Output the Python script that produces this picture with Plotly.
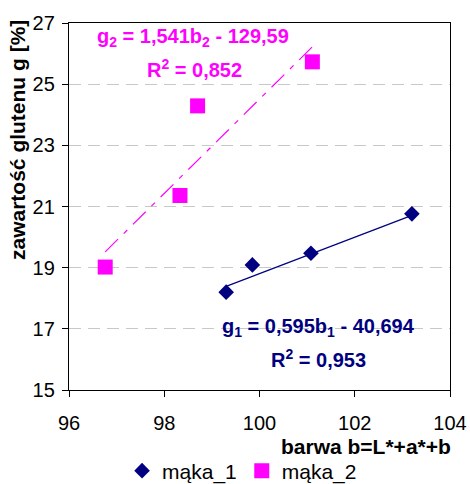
import plotly.graph_objects as go

b1 = [99.30, 99.85, 101.08, 103.20]
g1 = [18.20, 19.09, 19.47, 20.76]
b2 = [96.76, 98.33, 98.70, 101.11]
g2 = [19.02, 21.36, 24.29, 25.73]

slope1, icpt1 = 0.595, -40.694
slope2, icpt2 = 1.541, -129.59

x_ticks = [96, 98, 100, 102, 104]
y_ticks = [15, 17, 19, 21, 23, 25, 27]

NAVY = "#000080"
MAG = "#FF00FF"
FONT = "Liberation Sans, Arial, sans-serif"

W, H = 470, 484
L, R, T, B = 69, 20, 23, 94
pw, ph = W - L - R, H - T - B

fig = go.Figure()

# trend lines
t1x = [min(b1), max(b1)]
t1y = [slope1 * v + icpt1 for v in t1x]
t2x = [min(b2), max(b2)]
t2y = [slope2 * v + icpt2 for v in t2x]
fig.add_trace(go.Scatter(x=t1x, y=t1y, mode="lines", line=dict(color=NAVY, width=1.2),
                         showlegend=False, hoverinfo="skip"))
fig.add_trace(go.Scatter(x=t2x, y=t2y, mode="lines",
                         line=dict(color=MAG, width=1.2, dash="18px,8px,5px,8px"),
                         showlegend=False, hoverinfo="skip"))

fig.add_trace(go.Scatter(x=b1, y=g1, mode="markers", name="mąka_1",
                         marker=dict(symbol="diamond", size=12, color=NAVY)))
fig.add_trace(go.Scatter(x=b2, y=g2, mode="markers", name="mąka_2",
                         marker=dict(symbol="square", size=15, color=MAG)))


def ann(text, px, py, color, anchor="center", angle=0, size=20):
    return dict(text="<b>" + text + "</b>", x=(px - L) / pw, y=(H - B - py) / ph,
                xref="paper", yref="paper", showarrow=False, textangle=angle,
                font=dict(size=size, color=color, family=FONT),
                xanchor=anchor, yanchor="middle")


fig.update_layout(
    width=W, height=H,
    margin=dict(l=L, r=R, t=T, b=B, autoexpand=False),
    paper_bgcolor="white", plot_bgcolor="white",
    font=dict(family=FONT, size=20, color="black"),
    showlegend=True,
    legend=dict(orientation="h", x=0.515, xref="container", xanchor="center",
                y=(H - 471) / H, yref="container", yanchor="middle",
                font=dict(size=21), itemwidth=30, tracegroupgap=0),
    xaxis=dict(range=[96, 104], tickvals=x_ticks, ticktext=[str(v) for v in x_ticks],
               showgrid=False, zeroline=False, showline=True, linecolor="black",
               linewidth=1.3, mirror=True, ticks="outside", ticklen=6, tickcolor="black",
               tickfont=dict(size=20), automargin=False, ticklabelstandoff=9),
    yaxis=dict(range=[15, 27], tickvals=y_ticks, ticktext=[str(v) for v in y_ticks],
               showgrid=True, gridcolor="#C8C8C8", gridwidth=1.2, griddash="12px,7px",
               zeroline=False, showline=True, linecolor="black", linewidth=1.3,
               mirror=True, ticks="outside", ticklen=6, tickcolor="black",
               tickfont=dict(size=20), automargin=False, ticklabelstandoff=3),
    annotations=[
        ann("g<sub>2</sub> = 1,541b<sub>2</sub> - 129,59", 193, 37, MAG),
        ann("R<sup>2</sup> = 0,852", 194, 68, MAG),
        ann("g<sub>1</sub> = 0,595b<sub>1</sub> - 40,694", 318, 327, NAVY),
        ann("R<sup>2</sup> = 0,953", 318, 358, NAVY),
        ann("barwa b=L*+a*+b", 453, 446, "black", anchor="right", size=21),
        ann("zawartość glutenu g [%]", 17, 140, "black", angle=-90, size=21),
    ],
)

fig.write_html("out.html")
